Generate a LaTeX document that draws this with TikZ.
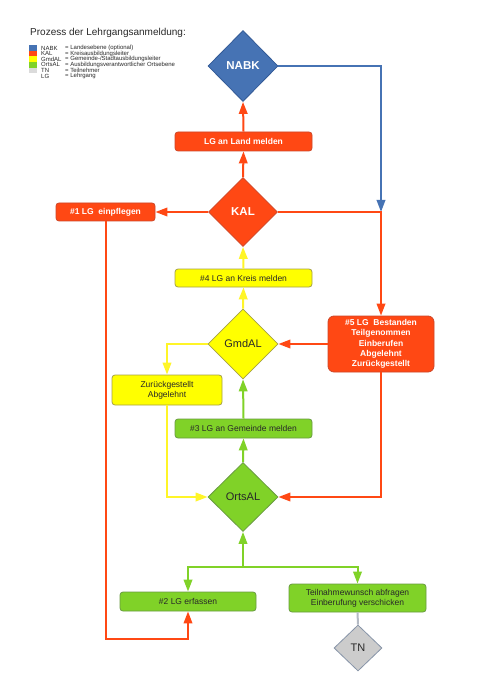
\documentclass[tikz,border=0pt]{standalone}
\usepackage{fontspec}
\setmainfont{Liberation Sans}
\usetikzlibrary{shapes.geometric,arrows.meta}
\definecolor{cblue}{RGB}{70,115,180}
\definecolor{cblueb}{RGB}{50,90,150}
\definecolor{cred}{RGB}{255,72,20}
\definecolor{credb}{RGB}{205,70,40}
\definecolor{cyel}{RGB}{255,255,0}
\definecolor{cyelb}{RGB}{165,160,70}
\definecolor{cyell}{RGB}{255,245,40}
\definecolor{cgrn}{RGB}{128,210,40}
\definecolor{cgrnb}{RGB}{105,155,65}
\definecolor{cgray}{RGB}{204,204,204}
\definecolor{cgrayb}{RGB}{135,148,168}
\definecolor{cgrayl}{RGB}{180,186,196}
\definecolor{ctext}{RGB}{40,40,40}
\tikzset{
  dia/.style={diamond,shape aspect=1,inner sep=0pt,line width=0.8pt},
  bx/.style={rectangle,rounded corners=3pt,inner sep=0pt,line width=0.8pt,align=center,font=\fontsize{8.5}{10}\selectfont},
  redbox/.style={bx,fill=cred,draw=credb,text=white,font=\fontsize{8.5}{10.5}\selectfont\bfseries},
  yelbox/.style={bx,fill=cyel,draw=cyelb,text=ctext},
  grnbox/.style={bx,fill=cgrn,draw=cgrnb,text=ctext},
  conn/.style={line width=2pt,-{Triangle[length=12pt,width=8.5pt]}},
  plain/.style={line width=2pt},
  leg/.style={anchor=west,inner sep=0pt,font=\fontsize{6}{6}\selectfont,text=ctext},
}
\begin{document}
\begin{tikzpicture}[x=1pt,y=-1pt]
\useasboundingbox (0,0) rectangle (494,700);
\fill[white] (0,0) rectangle (494,700);
% legend
\node[anchor=west,inner sep=0pt,font=\fontsize{10}{12}\selectfont,text=ctext] (title) at (30,33) {Prozess der Lehrgangsanmeldung:};
\fill[cblue] (29,45.2) rectangle (37,50.8);
\fill[cred] (29,50.8) rectangle (37,56.4);
\fill[cyel] (29,56.4) rectangle (37,62);
\fill[cgrn] (29,62) rectangle (37,67.6);
\fill[cgray!70] (29,67.6) rectangle (37,73.2);
\node[leg] (l1) at (41,48) {NABK};
\node[leg] (l2) at (41,53.6) {KAL};
\node[leg] (l3) at (41,59.2) {GmdAL};
\node[leg] (l4) at (41,64.8) {OrtsAL};
\node[leg] (l5) at (41,70.4) {TN};
\node[leg] (l6) at (41,76) {LG};
\node[leg] (d1) at (65,48) {= Landesebene (optional)};
\node[leg] (d2) at (65,53.6) {= Kreisausbildungsleiter};
\node[leg] (d3) at (65,59.2) {= Gemeinde-/Stadtausbildungsleiter};
\node[leg] (d4) at (65,64.8) {= Ausbildungsverantwortlicher Ortsebene};
\node[leg] (d5) at (65,70.4) {= Teilnehmer};
\node[leg] (d6) at (65,76) {= Lehrgang};
% diamonds
\node[dia,fill=cblue,draw=cblueb,minimum width=70pt,minimum height=71pt,text=white,font=\fontsize{11.5}{12}\selectfont\bfseries] (nabk) at (243,66) {NABK};
\node[dia,fill=cred,draw=credb,minimum width=69pt,minimum height=69pt,text=white,font=\fontsize{11.5}{12}\selectfont\bfseries] (kal) at (243,212) {KAL};
\node[dia,fill=cyel,draw=cyelb,minimum width=70pt,minimum height=70pt,text=ctext,font=\fontsize{11}{12}\selectfont] (gmd) at (243,344) {GmdAL};
\node[dia,fill=cgrn,draw=cgrnb,minimum width=70pt,minimum height=69pt,text=ctext,font=\fontsize{11}{12}\selectfont] (orts) at (243,497) {OrtsAL};
\node[dia,fill=cgray,draw=cgrayb,minimum width=48pt,minimum height=46pt,text=ctext,font=\fontsize{11}{12}\selectfont] (tn) at (358,648) {TN};
% boxes
\node[redbox,minimum width=137pt,minimum height=19pt] (land) at (243.5,141.5) {LG an Land melden};
\node[redbox,minimum width=99pt,minimum height=18pt] (b1) at (105.5,212) {\#1 LG\ \ einpflegen};
\node[yelbox,minimum width=137pt,minimum height=18pt] (b4) at (243.5,278) {\#4 LG an Kreis melden};
\node[redbox,rounded corners=6pt,minimum width=106pt,minimum height=56pt,font=\fontsize{8.5}{10.2}\selectfont\bfseries] (b5) at (381,344) {\#5 LG\ \ Bestanden\\Teilgenommen\\Einberufen\\Abgelehnt\\Zurückgestellt};
\node[yelbox,minimum width=110pt,minimum height=30pt] (zur) at (167,390) {Zurückgestellt\\Abgelehnt};
\node[grnbox,minimum width=137pt,minimum height=19pt] (b3) at (243.5,428.5) {\#3 LG an Gemeinde melden};
\node[grnbox,minimum width=136pt,minimum height=19pt] (b2) at (188,601.5) {\#2 LG erfassen};
\node[grnbox,minimum width=137pt,minimum height=28pt] (tw) at (357.5,598) {Teilnahmewunsch abfragen\\Einberufung verschicken};
% helper coordinates
\coordinate (kr) at (381,212);
\coordinate (b1d) at (106,639);
\coordinate (b5d) at (381,497);
\coordinate (br) at (243,567);
% connectors
\draw[conn,cblue] (nabk.east) -| (kr);
\draw[conn,cred] (kal.north) -- (land.south);
\draw[conn,cred] (land.north) -- (nabk.south);
\draw[conn,cred] (kal.west) -- (b1.east);
\draw[conn,cred] (kal.east) -- (kr) -- (b5.north);
\draw[conn,cred] (b1.south -| b1d) -- (b1d) -| (b2.south);
\draw[conn,cyell] (b4.north) -- (kal.south);
\draw[conn,cyell] (gmd.north) -- (b4.south);
\draw[conn,cred] (b5.west) -- (gmd.east);
\draw[conn,cred] (b5.south) -- (b5d) -- (orts.east);
\draw[conn,cyell] (gmd.west) -| (zur.north);
\draw[conn,cyell] (zur.south) |- (orts.west);
\draw[conn,cgrn] (b3.north) -- (gmd.south);
\draw[conn,cgrn] (orts.north) -- (b3.south);
\draw[conn,cgrn] (br) -- (orts.south);
\draw[conn,cgrn] (br) -| (b2.north);
\draw[conn,cgrn] (br) -| (tw.north);
\draw[plain,cgrayl] (tw.south) -- (tn.north);
\end{tikzpicture}
\end{document}
